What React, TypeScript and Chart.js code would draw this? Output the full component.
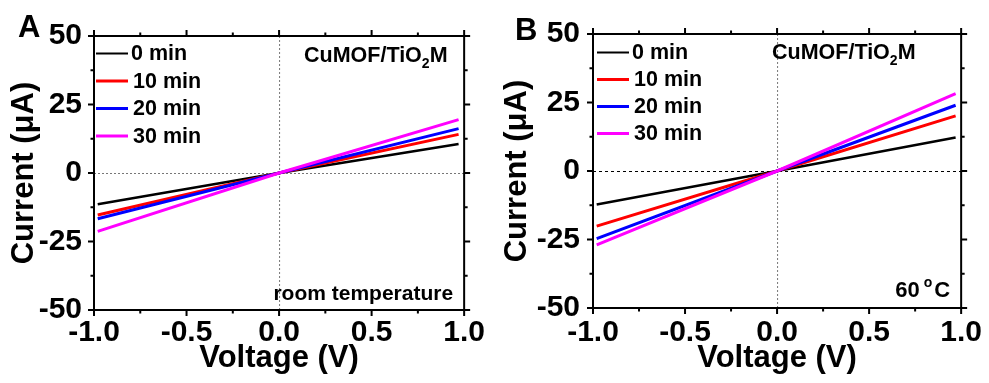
import React, { useEffect, useRef } from 'react';
import { Chart, registerables } from 'chart.js';

Chart.register(...registerables);

const FONT = "'Liberation Sans', Arial, Helvetica, sans-serif";

// ---- data ----
const seriesLabels = ['0 min', '10 min', '20 min', '30 min'];
const seriesColors = ['#000000', '#ff0000', '#0000ff', '#ff00ff'];

const xTickValues = [-1, -0.5, 0, 0.5, 1];
const yTickValues = [-50, -25, 0, 25, 50];

const voltageA = [-0.98, 0, 0.97];
const currentA0 = [-11.4, 0, 10.6];
const currentA10 = [-15.3, 0, 14.1];
const currentA20 = [-16.7, 0, 16.2];
const currentA30 = [-21.3, 0, 19.5];

const voltageB = [-0.98, 0, 0.97];
const currentB0 = [-12.2, 0, 12.2];
const currentB10 = [-20.1, 0, 20.1];
const currentB20 = [-24.7, 0, 24.0];
const currentB30 = [-27.0, 0, 28.2];

const sampleName = 'CuMOF/TiO';
const sampleSub = '2';
const sampleTail = 'M';

type PanelCfg = {
  left: number;
  width: number;
  height: number;
  axisWidth: number;
  padRight: number;
  padTop: number;
  xAxisHeight: number;
  yLabelPad: number;
  xLabelPad: number;
  yTitlePad: number;
  xTitlePad: number;
  letter: string;
  letterX: number;
  letterY: number;
  voltage: number[];
  currents: number[][];
  legendX: number;
  legendY: number;
  legendGap: number;
  nameX: number;
  nameY: number;
  hZeroColor: string;
  hZeroDash: number[];
  condition: 'room' | 'hot';
};

const midpoints = (arr: number[]) => {
  const out: number[] = [];
  for (let i = 0; i < arr.length - 1; i++) out.push((arr[i] + arr[i + 1]) / 2);
  return out;
};

function makeDecor(cfg: PanelCfg) {
  return {
    id: 'decor' + cfg.letter,
    beforeDatasetsDraw(chart: any) {
      const { ctx, chartArea } = chart;
      const { left, right, top, bottom } = chartArea;
      const xs = chart.scales.x;
      const ys = chart.scales.y;
      ctx.save();
      ctx.lineWidth = 1;
      const y0 = ys.getPixelForValue(0);
      ctx.strokeStyle = cfg.hZeroColor;
      ctx.setLineDash(cfg.hZeroDash);
      ctx.beginPath();
      ctx.moveTo(left, y0 + 0.5);
      ctx.lineTo(right, y0 + 0.5);
      ctx.stroke();
      const x0 = xs.getPixelForValue(0);
      ctx.strokeStyle = '#777777';
      ctx.setLineDash([2, 2]);
      ctx.beginPath();
      ctx.moveTo(x0 + 0.5, top);
      ctx.lineTo(x0 + 0.5, bottom);
      ctx.stroke();
      ctx.restore();
    },
    afterDraw(chart: any) {
      const { ctx, chartArea } = chart;
      const { left, right, top, bottom } = chartArea;
      const xs = chart.scales.x;
      const ys = chart.scales.y;
      ctx.save();
      ctx.setLineDash([]);
      ctx.strokeStyle = '#000';
      ctx.lineWidth = 2;
      ctx.strokeRect(left, top, right - left, bottom - top);

      // outward ticks on all four sides
      ctx.lineWidth = 2;
      ctx.beginPath();
      const tickX = (v: number, len: number) => {
        const p = xs.getPixelForValue(v);
        ctx.moveTo(p, bottom);
        ctx.lineTo(p, bottom + len);
        ctx.moveTo(p, top);
        ctx.lineTo(p, top - len);
      };
      const tickY = (v: number, len: number) => {
        const p = ys.getPixelForValue(v);
        ctx.moveTo(left, p);
        ctx.lineTo(left - len, p);
        ctx.moveTo(right, p);
        ctx.lineTo(right + len, p);
      };
      xTickValues.forEach((v) => tickX(v, 6));
      midpoints(xTickValues).forEach((v) => tickX(v, 3.5));
      yTickValues.forEach((v) => tickY(v, 6));
      midpoints(yTickValues).forEach((v) => tickY(v, 3.5));
      ctx.stroke();

      // legend
      ctx.textAlign = 'left';
      ctx.textBaseline = 'middle';
      ctx.fillStyle = '#000';
      ctx.font = `bold 21.5px ${FONT}`;
      seriesLabels.forEach((lab, i) => {
        const yy = top + cfg.legendY + i * cfg.legendGap;
        ctx.strokeStyle = seriesColors[i];
        ctx.lineWidth = i === 0 ? 2 : 3;
        ctx.beginPath();
        ctx.moveTo(left + cfg.legendX, yy);
        ctx.lineTo(left + cfg.legendX + 32, yy);
        ctx.stroke();
        ctx.fillText(lab, left + cfg.legendX + (i === 0 ? 35 : 37), yy + 1);
      });

      // sample name with subscript
      ctx.textBaseline = 'alphabetic';
      let nx = left + cfg.nameX;
      const ny = top + cfg.nameY;
      ctx.font = `bold 21.5px ${FONT}`;
      ctx.fillText(sampleName, nx, ny);
      nx += ctx.measureText(sampleName).width;
      ctx.font = `bold 14px ${FONT}`;
      ctx.fillText(sampleSub, nx, ny + 6);
      nx += ctx.measureText(sampleSub).width;
      ctx.font = `bold 21.5px ${FONT}`;
      ctx.fillText(sampleTail, nx, ny);

      // condition text
      if (cfg.condition === 'room') {
        ctx.textAlign = 'right';
        ctx.font = `bold 21px ${FONT}`;
        ctx.fillText('room temperature', right - 11, bottom - 10);
      } else {
        ctx.textAlign = 'right';
        ctx.font = `bold 22px ${FONT}`;
        const cx = right - 11;
        const by = bottom - 11;
        ctx.fillText('C', cx, by);
        const cw = ctx.measureText('C').width;
        ctx.font = `bold 14px ${FONT}`;
        ctx.fillText('o', cx - cw - 2, by - 10);
        const ow = ctx.measureText('o').width;
        ctx.font = `bold 22px ${FONT}`;
        ctx.fillText('60', cx - cw - 2 - ow - 4, by);
      }

      // panel letter
      ctx.textAlign = 'left';
      ctx.font = `bold 31px ${FONT}`;
      ctx.fillText(cfg.letter, cfg.letterX, cfg.letterY);
      ctx.restore();
    },
  };
}

function Panel({ cfg }: { cfg: PanelCfg }) {
  const ref = useRef<HTMLCanvasElement | null>(null);
  useEffect(() => {
    if (!ref.current) return;
    const tickFont = { family: FONT, size: 30, weight: 'bold' as const };
    const titleFont = { family: FONT, size: 31, weight: 'bold' as const };
    const datasets = cfg.currents.map((cur, i) => ({
      label: seriesLabels[i],
      data: cfg.voltage.map((v, j) => ({ x: v, y: cur[j] })),
      borderColor: seriesColors[i],
      backgroundColor: seriesColors[i],
      borderWidth: i === 0 ? 2.5 : 3,
      pointRadius: 0,
      tension: 0,
      fill: false,
      order: seriesLabels.length - i,
    }));
    const chart = new Chart(ref.current, {
      type: 'line',
      data: { datasets },
      plugins: [makeDecor(cfg)],
      options: {
        animation: false,
        responsive: false,
        maintainAspectRatio: false,
        layout: { padding: { top: cfg.padTop, right: cfg.padRight, left: 0, bottom: 0 } },
        plugins: { legend: { display: false }, tooltip: { enabled: false }, title: { display: false } },
        scales: {
          x: {
            type: 'linear',
            position: 'bottom',
            min: -1,
            max: 1,
            afterBuildTicks: (s: any) => {
              s.ticks = xTickValues.map((v) => ({ value: v }));
            },
            afterFit: (s: any) => {
              s.height = cfg.xAxisHeight;
            },
            grid: { display: false, drawTicks: false },
            border: { display: false },
            ticks: {
              color: '#000',
              font: tickFont,
              padding: cfg.xLabelPad,
              maxRotation: 0,
              autoSkip: false,
              callback: (v: any) => Number(v).toFixed(1),
            },
            title: {
              display: true,
              text: 'Voltage (V)',
              color: '#000',
              font: titleFont,
              padding: { top: 0, bottom: cfg.xTitlePad },
            },
          },
          y: {
            type: 'linear',
            position: 'left',
            min: -50,
            max: 50,
            afterBuildTicks: (s: any) => {
              s.ticks = yTickValues.map((v) => ({ value: v }));
            },
            afterFit: (s: any) => {
              s.width = cfg.axisWidth;
            },
            grid: { display: false, drawTicks: false },
            border: { display: false },
            ticks: {
              color: '#000',
              font: tickFont,
              padding: cfg.yLabelPad,
              autoSkip: false,
              callback: (v: any) => String(v),
            },
            title: {
              display: true,
              text: 'Current (μA)',
              color: '#000',
              font: titleFont,
              padding: { top: cfg.yTitlePad, bottom: 0 },
            },
          },
        },
      },
    } as any);
    return () => chart.destroy();
  }, [cfg]);
  return (
    <div style={{ position: 'absolute', left: cfg.left, top: 0, width: cfg.width, height: cfg.height }}>
      <canvas ref={ref} width={cfg.width} height={cfg.height} style={{ display: 'block' }} />
    </div>
  );
}

const panelA: PanelCfg = {
  left: 0,
  width: 490,
  height: 383,
  axisWidth: 94,
  padRight: 23,
  padTop: 36,
  xAxisHeight: 73,
  yLabelPad: 12,
  xLabelPad: 5,
  yTitlePad: 6,
  xTitlePad: 6,
  letter: 'A',
  letterX: 18,
  letterY: 37,
  voltage: voltageA,
  currents: [currentA0, currentA10, currentA20, currentA30],
  legendX: 2,
  legendY: 17.5,
  legendGap: 27.5,
  nameX: 210,
  nameY: 25.5,
  hZeroColor: '#777777',
  hZeroDash: [2, 2],
  condition: 'room',
};

const panelB: PanelCfg = {
  left: 490,
  width: 499,
  height: 383,
  axisWidth: 103,
  padRight: 23,
  padTop: 34,
  xAxisHeight: 75,
  yLabelPad: 13,
  xLabelPad: 7,
  yTitlePad: 9,
  xTitlePad: 6,
  letter: 'B',
  letterX: 25,
  letterY: 40,
  voltage: voltageB,
  currents: [currentB0, currentB10, currentB20, currentB30],
  legendX: 4,
  legendY: 18.5,
  legendGap: 27,
  nameX: 179,
  nameY: 25.3,
  hZeroColor: '#000000',
  hZeroDash: [3, 3],
  condition: 'hot',
};

export default function App() {
  return (
    <div style={{ position: 'fixed', left: 0, top: 0, width: 989, height: 383, background: '#fff', overflow: 'hidden' }}>
      <Panel cfg={panelA} />
      <Panel cfg={panelB} />
    </div>
  );
}
